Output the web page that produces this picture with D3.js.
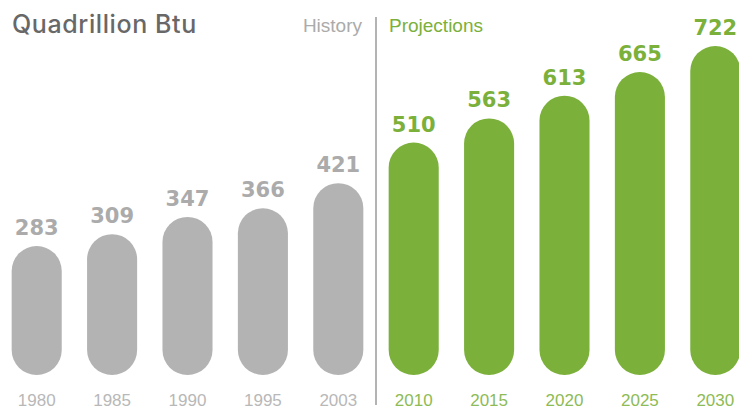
<!DOCTYPE html>
<html>
<head>
<meta charset="utf-8">
<script src="https://cdn.jsdelivr.net/npm/d3@7"></script>
<style>
  html, body { margin: 0; padding: 0; background: #fff; }
  svg { display: block; }
</style>
</head>
<body>
<svg id="chart" width="739" height="410"></svg>
<script>
const years = ["1980", "1985", "1990", "1995", "2003", "2010", "2015", "2020", "2025", "2030"];
const values = [283, 309, 347, 366, 421, 510, 563, 613, 665, 722];
const kinds = ["History", "History", "History", "History", "History",
               "Projections", "Projections", "Projections", "Projections", "Projections"];
const unitLabel = "Quadrillion Btu";
const sectionLabels = ["History", "Projections"];

const GRAY = "#b3b3b3";
const GRAY_TEXT = "#ababab";
const GREEN = "#7bb03b";

const svg = d3.select("#chart");
const baseY = 375;

const x = d3.scaleBand()
  .domain(years)
  .range([-1, 753])
  .paddingInner(0.336)
  .paddingOuter(0.168);

const y = d3.scaleLinear()
  .domain([0, 722])
  .range([baseY, 46]);

const color = k => k === "History" ? GRAY : GREEN;
const textColor = k => k === "History" ? GRAY_TEXT : GREEN;

const data = years.map((yr, i) => ({ year: yr, value: values[i], kind: kinds[i] }));

// bars (pill shaped)
svg.append("g").selectAll("rect")
  .data(data)
  .join("rect")
  .attr("x", d => x(d.year))
  .attr("y", d => y(d.value))
  .attr("width", x.bandwidth())
  .attr("height", d => baseY - y(d.value))
  .attr("rx", x.bandwidth() / 2)
  .attr("ry", x.bandwidth() / 2)
  .attr("fill", d => color(d.kind));

// value labels
svg.append("g").selectAll("text")
  .data(data)
  .join("text")
  .attr("x", d => x(d.year) + x.bandwidth() / 2)
  .attr("y", d => y(d.value) - 11)
  .attr("text-anchor", "middle")
  .attr("font-family", "'DejaVu Sans', sans-serif")
  .attr("font-weight", "bold")
  .attr("font-size", 21)
  .attr("fill", d => textColor(d.kind))
  .text(d => d.value);

// year axis labels
const axis = d3.axisBottom(x).tickSize(0).tickPadding(0);
const gAxis = svg.append("g")
  .attr("transform", `translate(0, ${baseY})`)
  .call(axis);
gAxis.select(".domain").remove();
gAxis.selectAll("text")
  .attr("y", 31)
  .attr("dy", 0)
  .attr("font-family", "'Liberation Sans', Arial, sans-serif")
  .attr("font-size", 17)
  .attr("fill", (d, i) => kinds[i] === "History" ? "#b8b8b8" : "#8dbb55");

// divider
const divX = (x("2003") + x.bandwidth() + x("2010")) / 2;
svg.append("line")
  .attr("x1", divX).attr("x2", divX)
  .attr("y1", 17).attr("y2", 405)
  .attr("stroke", "#9a9a9a")
  .attr("stroke-width", 1.5);

// title
svg.append("text")
  .attr("x", 12)
  .attr("y", 33)
  .attr("font-family", "Inter, 'Liberation Sans', sans-serif")
  .attr("font-weight", 500)
  .attr("font-size", 25)
  .attr("letter-spacing", 0.6)
  .attr("fill", "#686868")
  .text(unitLabel);

// section labels
svg.append("text")
  .attr("x", divX - 14)
  .attr("y", 32)
  .attr("text-anchor", "end")
  .attr("font-family", "'Liberation Sans', Arial, sans-serif")
  .attr("font-size", 19)
  .attr("fill", "#ababab")
  .text(sectionLabels[0]);

svg.append("text")
  .attr("x", divX + 13)
  .attr("y", 32)
  .attr("font-family", "'Liberation Sans', Arial, sans-serif")
  .attr("font-size", 19)
  .attr("fill", GREEN)
  .text(sectionLabels[1]);
</script>
</body>
</html>
